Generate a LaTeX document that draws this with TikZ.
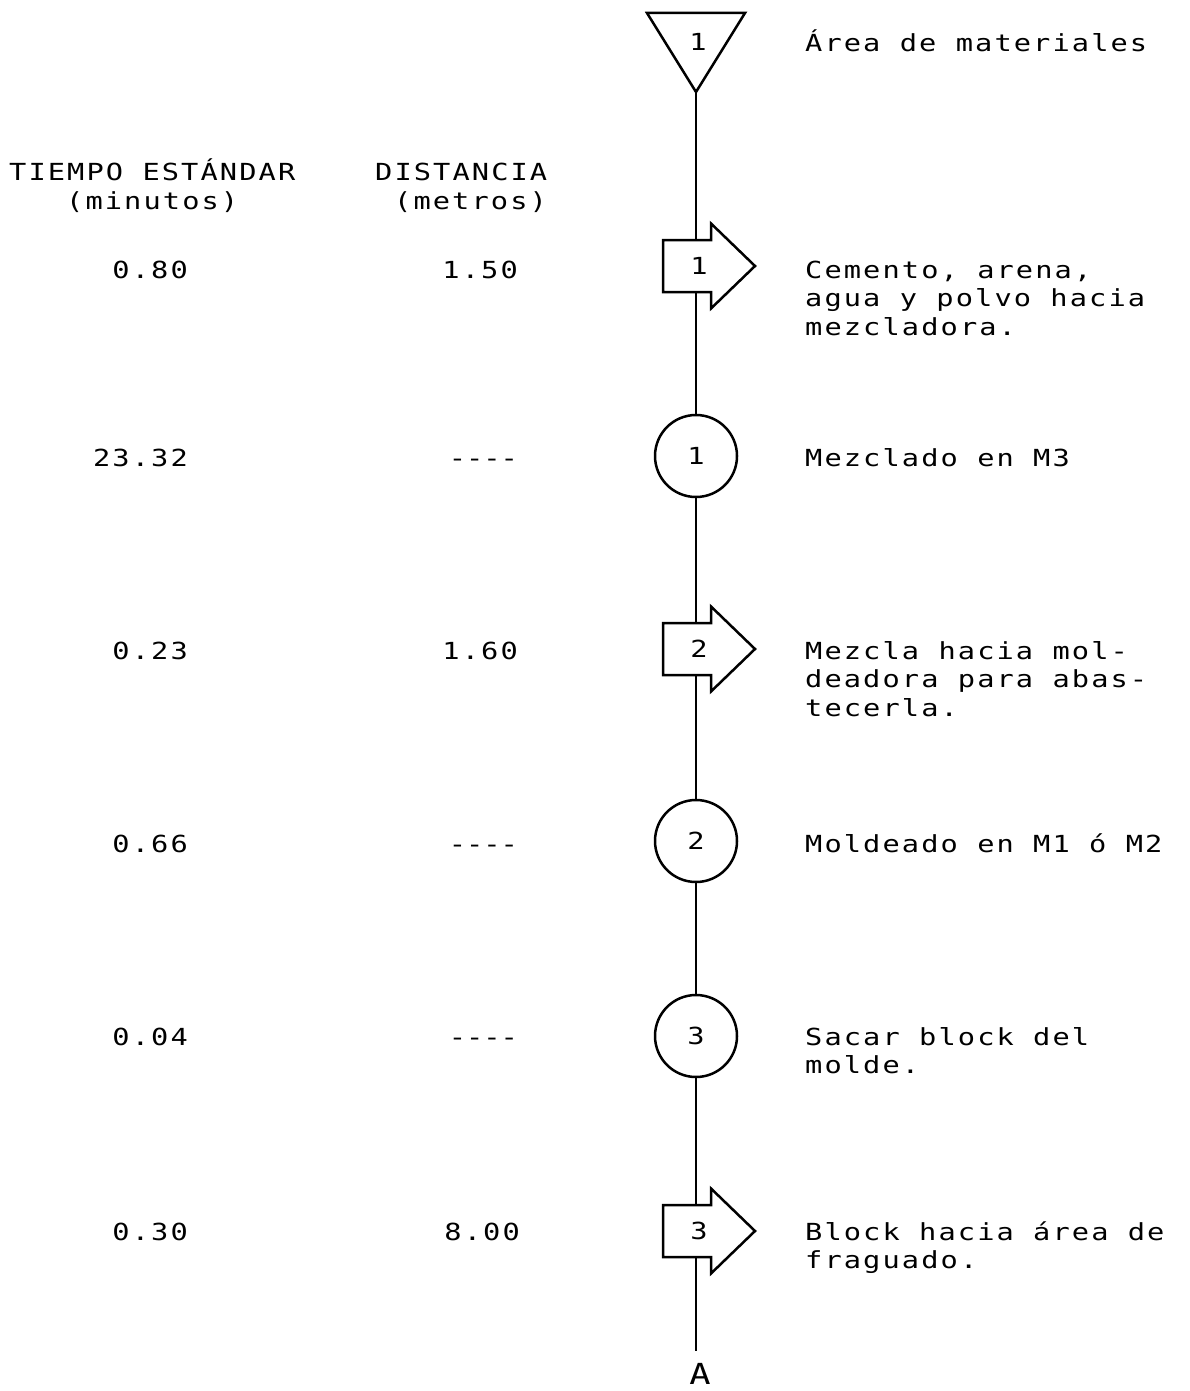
\documentclass[tikz,border=0pt]{standalone}
\usepackage{fontspec}
\newfontfamily\plotfont[FakeStretch=1.22,LetterSpace=8.9]{DejaVu Sans Mono}
\newcommand\mydashes{-\kern0pt-\kern0pt-\kern0pt-}
\begin{document}
\begin{tikzpicture}[x=1pt,y=-1pt,
  every node/.style={inner sep=0pt, font=\plotfont\fontsize{23.5}{28.7}\selectfont},
  lbl/.style={anchor=base west},
  val/.style={anchor=base east},
  opnode/.style={circle, draw, fill=white, line width=2.5pt, minimum size=82pt},
  flowline/.style={line width=2.5pt},
  tshape/.style={draw, fill=white, line width=2.5pt, line join=miter},
  transport/.pic={\path[tshape] (-33,-26) -- (15,-26) -- (15,-42.5) -- (59,0) -- (15,42.5) -- (15,26) -- (-33,26) -- cycle;}
]
\useasboundingbox (0,0) rectangle (1190,1391);

% operations (circles)
\node[opnode] (o1) at (696,456) {1};
\node[opnode] (o2) at (696,841) {2};
\node[opnode] (o3) at (696,1036) {3};

% end label
\node[font=\plotfont\fontsize{29}{32}\selectfont, anchor=base] (A) at (700,1384) {A};

% storage triangle
\coordinate (apex) at (696,92);
\draw[tshape] (647,13) -- (745,13) -- (apex) -- cycle;
\node (s1) at (698,42) {1};

% flow line
\draw[flowline] (apex) -- (o1.north);
\draw[flowline] (o1.south) -- (o2.north);
\draw[flowline] (o2.south) -- (o3.north);
\draw[flowline, shorten >=12pt] (o3.south) -- (o3.south |- A.north);

% transports
\pic at (696,266) {transport};
\node (t1) at (699,266) {1};
\pic at (696,649) {transport};
\node (t2) at (699,649) {2};
\pic at (696,1231) {transport};
\node (t3) at (699,1231) {3};

% headers
\node[lbl] (h1) at (9,181) {TIEMPO ESTÁNDAR};
\node[lbl] (h2) at (66,209) {(minutos)};
\node[lbl] (h3) at (375,181) {DISTANCIA};
\node[lbl] (h4) at (394,209) {(metros)};

% values
\node[val] (v1) at (188,278) {0.80};
\node[val] (d1) at (518,278) {1.50};
\node[val] (v2) at (188,466) {23.32};
\node[val] (d2) at (518,466) {\mydashes};
\node[val] (v3) at (188,659) {0.23};
\node[val] (d3) at (518,659) {1.60};
\node[val] (v4) at (188,852) {0.66};
\node[val] (d4) at (518,852) {\mydashes};
\node[val] (v5) at (188,1045) {0.04};
\node[val] (d5) at (518,1045) {\mydashes};
\node[val] (v6) at (188,1240) {0.30};
\node[val] (d6) at (520,1240) {8.00};

% descriptions
\node[lbl] (r0) at (805,52) {Área de materiales};
\node[lbl] (r1a) at (805,278) {Cemento, arena,};
\node[lbl] (r1b) at (805,306.7) {agua y polvo hacia};
\node[lbl] (r1c) at (805,335.4) {mezcladora.};
\node[lbl] (r2) at (805,466) {Mezclado en M3};
\node[lbl] (r3a) at (805,659) {Mezcla hacia mol-};
\node[lbl] (r3b) at (805,687.7) {deadora para abas-};
\node[lbl] (r3c) at (805,716.4) {tecerla.};
\node[lbl] (r4) at (805,852) {Moldeado en M1 ó M2};
\node[lbl] (r5a) at (805,1045) {Sacar block del};
\node[lbl] (r5b) at (805,1073.7) {molde.};
\node[lbl] (r6a) at (805,1240) {Block hacia área de};
\node[lbl] (r6b) at (805,1268.7) {fraguado.};
\end{tikzpicture}
\end{document}
